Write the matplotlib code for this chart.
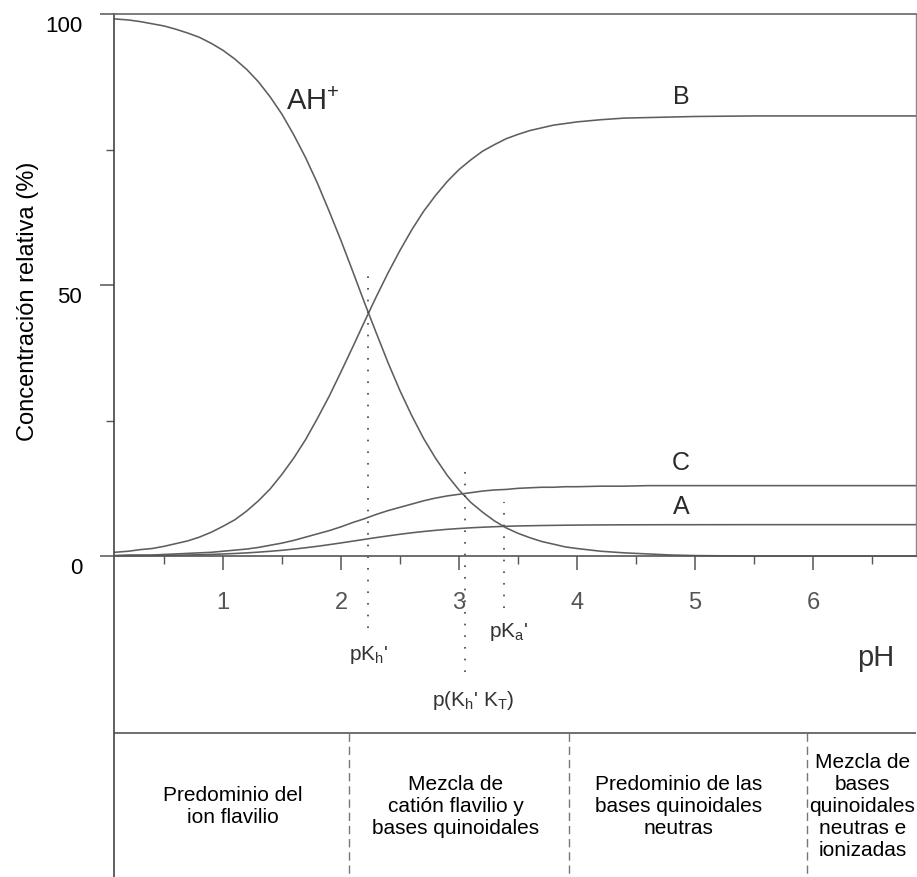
import matplotlib.pyplot as plt
import matplotlib.transforms as mtransforms

plt.rcParams['font.family'] = ['Liberation Sans', 'DejaVu Sans']
plt.rcParams['mathtext.fontset'] = 'custom'
plt.rcParams['mathtext.rm'] = 'Liberation Sans'
plt.rcParams['mathtext.it'] = 'Liberation Sans:italic'

# species distribution vs pH (% of total)
ph = [0.08, 0.2, 0.3, 0.4, 0.5, 0.6, 0.7, 0.8, 0.9, 1.0,
      1.1, 1.2, 1.3, 1.4, 1.5, 1.6, 1.7, 1.8, 1.9, 2.0,
      2.1, 2.2, 2.3, 2.4, 2.5, 2.6, 2.7, 2.8, 2.9, 3.0,
      3.1, 3.2, 3.3, 3.4, 3.5, 3.6, 3.7, 3.8, 3.9, 4.0,
      4.2, 4.4, 4.6, 4.8, 5.0, 5.5, 6.0, 6.5, 6.87]
ah = [99.1, 98.9, 98.6, 98.2, 97.8, 97.2, 96.5, 95.7, 94.6, 93.3,
      91.7, 89.8, 87.5, 84.7, 81.5, 77.7, 73.5, 68.8, 63.6, 58.2,
      52.5, 46.7, 41.1, 35.6, 30.5, 25.9, 21.7, 18.1, 14.9, 12.2,
      9.9, 8.1, 6.5, 5.2, 4.2, 3.4, 2.7, 2.2, 1.7, 1.4,
      0.9, 0.6, 0.4, 0.2, 0.1, 0.0, 0.0, 0.0, 0.0]
b = [0.7, 0.9, 1.2, 1.4, 1.8, 2.3, 2.8, 3.5, 4.4, 5.5,
     6.7, 8.3, 10.2, 12.4, 15.1, 18.1, 21.5, 25.4, 29.5, 34.0,
     38.6, 43.3, 47.9, 52.3, 56.4, 60.2, 63.6, 66.5, 69.1, 71.3,
     73.1, 74.7, 75.9, 77.0, 77.8, 78.5, 79.0, 79.5, 79.8, 80.1,
     80.5, 80.8, 80.9, 81.0, 81.1, 81.2, 81.2, 81.2, 81.2]
c = [0.1, 0.2, 0.2, 0.2, 0.3, 0.4, 0.5, 0.6, 0.7, 0.9,
     1.1, 1.3, 1.6, 2.0, 2.4, 2.9, 3.5, 4.1, 4.7, 5.4,
     6.2, 6.9, 7.7, 8.4, 9.0, 9.6, 10.2, 10.7, 11.1, 11.4,
     11.7, 12.0, 12.2, 12.3, 12.5, 12.6, 12.7, 12.7, 12.8, 12.8,
     12.9, 12.9, 13.0, 13.0, 13.0, 13.0, 13.0, 13.0, 13.0]
a = [0.05, 0.07, 0.08, 0.1, 0.13, 0.16, 0.2, 0.25, 0.31, 0.39,
     0.48, 0.59, 0.73, 0.89, 1.07, 1.29, 1.54, 1.81, 2.11, 2.43,
     2.76, 3.09, 3.42, 3.73, 4.03, 4.3, 4.54, 4.75, 4.94, 5.09,
     5.22, 5.33, 5.42, 5.5, 5.56, 5.6, 5.64, 5.67, 5.7, 5.72,
     5.75, 5.77, 5.78, 5.79, 5.79, 5.8, 5.8, 5.8, 5.8]

# characteristic pK values: (pH, top / bottom of the dotted line)
pk_pos = [2.23, 3.05, 3.38]
pk_top = [52.4, 17.2, 10.0]
pk_bottom = [-13.3, -21.4, -9.6]
pk_labels = [r"pK$_{\mathrm{h}}$'", r"p(K$_{\mathrm{h}}$' K$_{\mathrm{T}}$)", r"pK$_{\mathrm{a}}$'"]
pk_label_xy = [(2.23, -18.3), (3.12, -26.6), (3.42, -14.0)]

# zones under the plot
zone_edges = [2.07, 3.93, 5.95]
zone_texts = ['Predominio del\nion flavilio',
              'Mezcla de\ncatión flavilio y\nbases quinoidales',
              'Predominio de las\nbases quinoidales\nneutras',
              'Mezcla de\nbases\nquinoidales\nneutras e\nionizadas']
zone_centers = [1.08, 2.97, 4.86, 6.42]

fig = plt.figure(figsize=(9.17, 8.77), dpi=100)
ax = fig.add_axes([0.1243, 0.0, 0.8746, 0.984])
ax.set_xlim(0.076, 6.873)
ax.set_ylim(-59.2, 100)

curve = dict(color='#5e5e5e', lw=1.15)
ax.plot(ph, ah, **curve)
ax.plot(ph, b, **curve)
ax.plot(ph, c, **curve)
ax.plot(ph, a, **curve)

ax.text(1.53, 82.3, 'AH$^{+}$', fontsize=21, color='#2a2a2a', ha='left', va='baseline')
ax.text(4.88, 84.7, 'B', fontsize=18, color='#2a2a2a', ha='center', va='center')
ax.text(4.88, 17.2, 'C', fontsize=18, color='#2a2a2a', ha='center', va='center')
ax.text(4.88, 9.0, 'A', fontsize=18, color='#2a2a2a', ha='center', va='center')

for x, top, bot in zip(pk_pos, pk_top, pk_bottom):
    ax.plot([x, x], [bot, top], color='#444444', lw=1.2, dashes=(1, 6), clip_on=False)
for lab, (x, y) in zip(pk_labels, pk_label_xy):
    ax.text(x, y, lab, fontsize=15, color='#333333', ha='center', va='center')

ax.text(6.53, -18.8, 'pH', fontsize=21, color='#333333', ha='center', va='center')

# lower panel with zones
ax.axhline(-32.7, color='#555555', lw=1.2)
for x in zone_edges:
    ax.plot([x, x], [-32.7, -59.2], color='#777777', lw=1.0, dashes=(6, 3.5))
for x, t in zip(zone_centers, zone_texts):
    ax.text(x, -46.2, t, fontsize=15, ha='center', va='center', linespacing=1.2)

# spines: bottom axis sits at y = 0
ax.spines['bottom'].set_position(('data', 0))
ax.spines['bottom'].set_color('#555555')
ax.spines['left'].set_color('#444444')
ax.spines['top'].set_color('#666666')
ax.spines['right'].set_visible(False)
ax.plot([6.873, 6.873], [0, 100], color='#888888', lw=1.0, clip_on=False)
for s in ['bottom', 'left', 'top']:
    ax.spines[s].set_linewidth(1.2)

ax.set_xticks([1, 2, 3, 4, 5, 6])
ax.set_xticks([0.5, 1.5, 2.5, 3.5, 4.5, 5.5, 6.5], minor=True)
ax.set_yticks([0, 50, 100])
ax.set_yticks([25, 75], minor=True)
ax.tick_params(axis='x', which='major', length=10, width=1.1, color='#555555',
               labelsize=17, labelcolor='#555555', pad=16)
ax.tick_params(axis='x', which='minor', length=6, width=1.0, color='#555555')
ax.tick_params(axis='y', which='major', length=10, width=1.1, color='#555555',
               labelsize=16, pad=13)
ax.tick_params(axis='y', which='minor', length=6, width=1.0, color='#555555')

# y tick labels sit a bit below their ticks
offset = mtransforms.ScaledTranslation(0, -10 / 100, fig.dpi_scale_trans)
for lab in ax.get_yticklabels():
    lab.set_transform(lab.get_transform() + offset)

fig.text(28 / 917, 1 - 301 / 877, 'Concentración relativa (%)', rotation=90,
         fontsize=17, ha='center', va='center')

fig.savefig('out.png', dpi=100)
